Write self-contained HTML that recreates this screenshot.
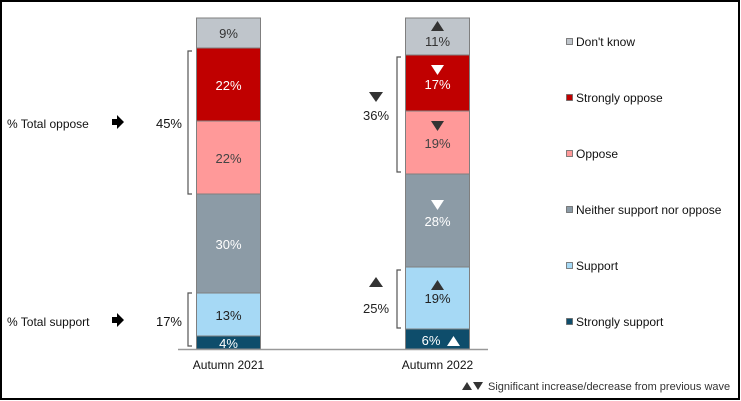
<!DOCTYPE html>
<html><head><meta charset="utf-8"><style>
html,body{margin:0;padding:0;background:#fff}
svg{display:block}
text{font-family:"Liberation Sans",Arial,sans-serif}
</style></head><body>
<svg width="741" height="401" viewBox="0 0 741 401" xmlns="http://www.w3.org/2000/svg">
<rect x="1" y="1" width="738" height="398" fill="#fff" stroke="#000" stroke-width="2"/>
<g stroke="#7f7f7f" stroke-width="1">
<rect x="196.5" y="18" width="64" height="30" fill="#bfc5cb"/>
<rect x="196.5" y="48" width="64" height="73" fill="#c00000"/>
<rect x="196.5" y="121" width="64" height="73" fill="#ff9999"/>
<rect x="196.5" y="194" width="64" height="99" fill="#8c9ba6"/>
<rect x="196.5" y="293" width="64" height="43" fill="#a6d9f5"/>
<rect x="196.5" y="336" width="64" height="13" fill="#0e4d6b"/>
<rect x="405.5" y="18" width="64" height="37" fill="#bfc5cb"/>
<rect x="405.5" y="55" width="64" height="56" fill="#c00000"/>
<rect x="405.5" y="111" width="64" height="63" fill="#ff9999"/>
<rect x="405.5" y="174" width="64" height="93" fill="#8c9ba6"/>
<rect x="405.5" y="267" width="64" height="62" fill="#a6d9f5"/>
<rect x="405.5" y="329" width="64" height="20" fill="#0e4d6b"/>
</g>
<line x1="178" y1="349.5" x2="488" y2="349.5" stroke="#999" stroke-width="1.5"/>
<g fill="none" stroke="#555" stroke-width="1.2">
<path d="M192 51 H188 V194 H192"/>
<path d="M192 293 H188 V346 H192"/>
<path d="M401 57 H397 V172 H401"/>
<path d="M401 270 H397 V328 H401"/>
</g>
<g font-size="13" text-anchor="middle">
<text x="228.5" y="38" fill="#333">9%</text>
<text x="228.5" y="90" fill="#fff">22%</text>
<text x="228.5" y="163" fill="#444">22%</text>
<text x="228.5" y="249" fill="#fff">30%</text>
<text x="228.5" y="320" fill="#222">13%</text>
<text x="228.5" y="348" fill="#fff">4%</text>
<text x="437.5" y="46" fill="#333">11%</text>
<text x="437.5" y="89" fill="#fff">17%</text>
<text x="437.5" y="148" fill="#444">19%</text>
<text x="437.5" y="226" fill="#fff">28%</text>
<text x="437.5" y="303" fill="#222">19%</text>
<text x="431" y="345" fill="#fff">6%</text>
<text x="228.5" y="369" fill="#111" font-size="12">Autumn 2021</text>
<text x="437.5" y="369" fill="#111" font-size="12">Autumn 2022</text>
<text x="376" y="120" fill="#222">36%</text>
<text x="376" y="313" fill="#222">25%</text>
</g>
<g fill="#333">
<path d="M431 31 L444 31 L437.5 21 Z"/>
<path d="M431 121 L444 121 L437.5 131 Z"/>
<path d="M431 290 L444 290 L437.5 280 Z"/>
<path d="M369 92 L383 92 L376 102 Z"/>
<path d="M369 287 L383 287 L376 277 Z"/>
</g>
<g fill="#fff">
<path d="M431 65 L444 65 L437.5 75 Z"/>
<path d="M431 200 L444 200 L437.5 210 Z"/>
<path d="M447 346 L460 346 L453.5 336 Z"/>
</g>
<g font-size="12" fill="#111">
<text x="7" y="128">% Total oppose</text>
<text x="7" y="326">% Total support</text>
<text x="182" y="128" text-anchor="end" font-size="13">45%</text>
<text x="182" y="326" text-anchor="end" font-size="13">17%</text>
</g>
<path d="M112 119 h5 v-4 l7 7 l-7 7 v-4 h-5 Z" fill="#000"/>
<path d="M112 317 h5 v-4 l7 7 l-7 7 v-4 h-5 Z" fill="#000"/>
<g stroke="#666" stroke-width="0.8">
<rect x="566.5" y="38.5" width="6" height="6" fill="#bfc5cb"/>
<rect x="566.5" y="94.5" width="6" height="6" fill="#c00000"/>
<rect x="566.5" y="150.5" width="6" height="6" fill="#ff9999"/>
<rect x="566.5" y="206.5" width="6" height="6" fill="#8c9ba6"/>
<rect x="566.5" y="262.5" width="6" height="6" fill="#a6d9f5"/>
<rect x="566.5" y="318.5" width="6" height="6" fill="#0e4d6b"/>
</g>
<g font-size="12" fill="#111">
<text x="576" y="46">Don't know</text>
<text x="576" y="102">Strongly oppose</text>
<text x="576" y="158">Oppose</text>
<text x="576" y="214">Neither support nor oppose</text>
<text x="576" y="270">Support</text>
<text x="576" y="326">Strongly support</text>
</g>
<path d="M462 390 L472 390 L467 382 Z M473 382 L483 382 L478 390 Z" fill="#333"/>
<text x="488" y="390" font-size="11" fill="#333">Significant increase/decrease from previous wave</text>
</svg>
</body></html>
